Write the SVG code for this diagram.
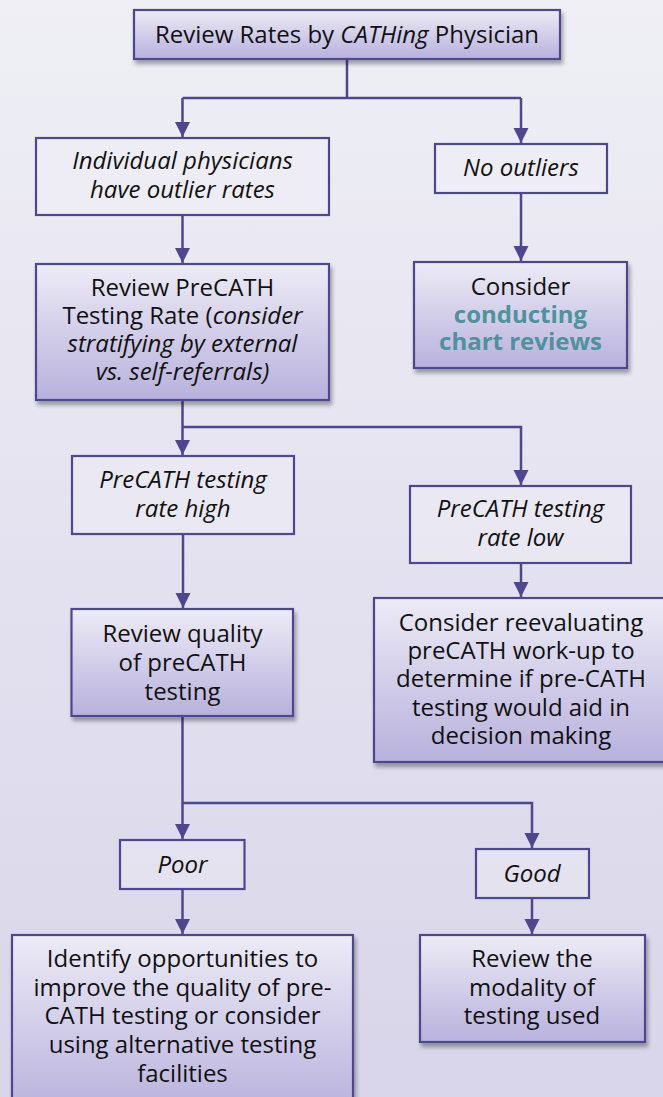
<svg xmlns="http://www.w3.org/2000/svg" width="663" height="1097" viewBox="0 0 663 1097">
<defs>
<linearGradient id="bg" x1="0" y1="0" x2="0" y2="1">
<stop offset="0" stop-color="#efeff5"/>
<stop offset="1" stop-color="#d9d5ea"/>
</linearGradient>
<linearGradient id="act" x1="0" y1="0" x2="0" y2="1">
<stop offset="0" stop-color="#edebf6"/>
<stop offset="1" stop-color="#b8b1dc"/>
</linearGradient>
<filter id="sh" x="-10%" y="-10%" width="125%" height="130%">
<feGaussianBlur in="SourceAlpha" stdDeviation="2"/>
<feOffset dx="2" dy="4" result="o"/>
<feComponentTransfer><feFuncA type="linear" slope="0.35"/></feComponentTransfer>
<feMerge><feMergeNode/><feMergeNode in="SourceGraphic"/></feMerge>
</filter>
<marker id="arr" markerUnits="userSpaceOnUse" markerWidth="16" markerHeight="17" refX="15" refY="7.5" orient="auto">
<path d="M0,0 L15,7.5 L0,15 Z" fill="#4e4790"/>
</marker>
<style>
.act{fill:url(#act);stroke:#4e4790;stroke-width:2.2;filter:url(#sh)}
.dec{fill:#f3f2f8;fill-opacity:0.35;stroke:#4e4790;stroke-width:2.2}
.t{font-family:"Open Sans","Liberation Sans",sans-serif;font-size:24px;fill:#111;text-anchor:middle}
.i{font-style:italic}
.teal{fill:#4d929d;font-weight:bold}
.c{fill:none;stroke:#4e4790;stroke-width:2.5}
</style>
</defs>
<rect width="663" height="1097" fill="url(#bg)"/>
<g id="connectors">
<path class="c" d="M347,59 V98"/>
<path class="c" d="M182.5,98 H521"/>
<path class="c" d="M182.5,98 V137" marker-end="url(#arr)"/>
<path class="c" d="M521,98 V143" marker-end="url(#arr)"/>
<path class="c" d="M182.5,215 V263" marker-end="url(#arr)"/>
<path class="c" d="M521,193 V261" marker-end="url(#arr)"/>
<path class="c" d="M182.5,400 V455" marker-end="url(#arr)"/>
<path class="c" d="M182.5,427 H521 V485" marker-end="url(#arr)"/>
<path class="c" d="M183,534 V608" marker-end="url(#arr)"/>
<path class="c" d="M521,563 V597" marker-end="url(#arr)"/>
<path class="c" d="M182.5,716 V839" marker-end="url(#arr)"/>
<path class="c" d="M182.5,803 H532 V848" marker-end="url(#arr)"/>
<path class="c" d="M182.5,889 V934" marker-end="url(#arr)"/>
<path class="c" d="M532,898 V934" marker-end="url(#arr)"/>
</g>
<g id="n-top">
<rect class="act" x="134" y="10" width="426" height="49"/>
<text class="t" x="347" y="43">Review Rates by <tspan class="i">CATHing</tspan> Physician</text>
</g>
<g id="n-outlier">
<rect class="dec" x="36" y="138" width="293" height="77"/>
<text class="t i" x="182.5" y="169">Individual physicians<tspan x="182.5" dy="29">have outlier rates</tspan></text>
</g>
<g id="n-nooutlier">
<rect class="dec" x="435" y="144" width="172" height="49"/>
<text class="t i" x="521" y="176">No outliers</text>
</g>
<g id="n-reviewprecath">
<rect class="act" x="36" y="264" width="293" height="136"/>
<text class="t" x="182.5" y="296">Review PreCATH<tspan x="182.5" dy="28">Testing Rate (<tspan class="i">consider</tspan></tspan><tspan class="i" x="182.5" dy="28">stratifying by external</tspan><tspan class="i" x="182.5" dy="28">vs. self-referrals)</tspan></text>
</g>
<g id="n-consider">
<rect class="act" x="414" y="262" width="213" height="106"/>
<text class="t" x="520.5" y="295">Consider<tspan class="teal" x="520.5" dy="28">conducting</tspan><tspan class="teal" x="520.5" dy="27">chart reviews</tspan></text>
</g>
<g id="n-high">
<rect class="dec" x="72" y="456" width="222" height="78"/>
<text class="t i" x="183" y="488">PreCATH testing<tspan x="183" dy="29">rate high</tspan></text>
</g>
<g id="n-low">
<rect class="dec" x="410" y="486" width="221" height="77"/>
<text class="t i" x="520.5" y="517">PreCATH testing<tspan x="520.5" dy="28.5">rate low</tspan></text>
</g>
<g id="n-quality">
<rect class="act" x="71.5" y="609" width="221.5" height="107"/>
<text class="t" x="182.5" y="642">Review quality<tspan x="182.5" dy="29">of preCATH</tspan><tspan x="182.5" dy="29">testing</tspan></text>
</g>
<g id="n-reeval">
<rect class="act" x="374" y="598" width="294" height="164"/>
<text class="t" x="521" y="631">Consider reevaluating<tspan x="521" dy="28">preCATH work-up to</tspan><tspan x="521" dy="28">determine if pre-CATH</tspan><tspan x="521" dy="29">testing would aid in</tspan><tspan x="521" dy="28">decision making</tspan></text>
</g>
<g id="n-poor">
<rect class="dec" x="120" y="840" width="124.5" height="49"/>
<text class="t i" x="182.5" y="873">Poor</text>
</g>
<g id="n-good">
<rect class="dec" x="476" y="849" width="113" height="49"/>
<text class="t i" x="532" y="882">Good</text>
</g>
<g id="n-identify">
<rect class="act" x="12" y="935" width="341" height="180"/>
<text class="t" x="182.5" y="967">Identify opportunities to<tspan x="182.5" dy="29">improve the quality of pre-</tspan><tspan x="182.5" dy="28">CATH testing or consider</tspan><tspan x="182.5" dy="29">using alternative testing</tspan><tspan x="182.5" dy="29">facilities</tspan></text>
</g>
<g id="n-modality">
<rect class="act" x="420" y="935" width="225" height="107"/>
<text class="t" x="532" y="967">Review the<tspan x="532" dy="29">modality of</tspan><tspan x="532" dy="28">testing used</tspan></text>
</g>
</svg>
